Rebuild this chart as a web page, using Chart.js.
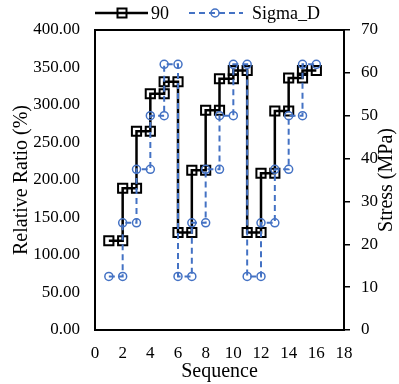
<!DOCTYPE html>
<html>
<head>
<meta charset="utf-8">
<script src="https://cdn.jsdelivr.net/npm/chart.js@4/dist/chart.umd.min.js"></script>
<style>
  html, body { margin: 0; padding: 0; background: #fff; }
  #wrap { width: 399px; height: 384px; }
</style>
</head>
<body>
<div id="wrap"><canvas id="c" width="399" height="384"></canvas></div>
<script>
const sequence = [1,2,2,3,3,4,4,5,5,6,6,7,7,8,8,9,9,10,10,11,11,12,12,13,13,14,14,15,15,16];
const ratio90 = [119,119,189,189,265,265,315,315,331,331,130,130,213,213,293,293,335,335,346,346,130,130,209,209,292,292,336,336,346,346];
const sigmaD = [12.5,12.5,25,25,37.5,37.5,50,50,62,62,12.5,12.5,25,25,37.5,37.5,50,50,62,62,12.5,12.5,25,25,37.5,37.5,50,50,62,62];
const seriesNames = ['90', 'Sigma_D'];
const xTicks = [0,2,4,6,8,10,12,14,16,18];
const leftTicks = [0,50,100,150,200,250,300,350,400];
const rightTicks = [0,10,20,30,40,50,60,70];
const xTitle = 'Sequence';
const leftTitle = 'Relative Ratio (%)';
const rightTitle = 'Stress (MPa)';

const FONT = "'Liberation Serif', 'Times New Roman', serif";
const BLUE = '#4472C4';

const pts = (ys) => sequence.map((x, i) => ({x: x, y: ys[i]}));

const frame = {
  id: 'frame',
  afterDatasetsDraw(chart) {
    const {ctx, chartArea: a} = chart;
    ctx.save();
    ctx.strokeStyle = '#000';
    ctx.lineWidth = 2;
    ctx.beginPath();
    ctx.moveTo(a.left - 1, a.top);
    ctx.lineTo(a.right + 1, a.top);
    ctx.stroke();
    ctx.restore();
  },
  afterDraw(chart) {
    const {ctx, chartArea: a} = chart;
    const ds = chart.data.datasets;
    ctx.save();
    ctx.font = '18px ' + FONT;
    ctx.textBaseline = 'middle';
    ctx.fillStyle = '#000';
    const y = 13;
    // legend item 1
    ctx.strokeStyle = ds[0].borderColor;
    ctx.lineWidth = ds[0].borderWidth;
    ctx.setLineDash([]);
    ctx.beginPath(); ctx.moveTo(95, y); ctx.lineTo(148, y); ctx.stroke();
    ctx.lineWidth = ds[0].pointBorderWidth;
    ctx.strokeRect(117.5, y - 4.5, 9, 9);
    ctx.fillText(seriesNames[0], 151, y + 1);
    // legend item 2
    ctx.strokeStyle = ds[1].borderColor;
    ctx.lineWidth = ds[1].borderWidth;
    ctx.setLineDash(ds[1].borderDash);
    ctx.beginPath(); ctx.moveTo(189, y); ctx.lineTo(243, y); ctx.stroke();
    ctx.setLineDash([]);
    ctx.lineWidth = ds[1].pointBorderWidth;
    ctx.beginPath(); ctx.arc(215, y, 4, 0, Math.PI * 2); ctx.stroke();
    ctx.fillText(seriesNames[1], 252, y + 1);
    // right axis title, reading bottom to top
    ctx.font = '20px ' + FONT;
    ctx.textAlign = 'center';
    ctx.translate(387, (a.top + a.bottom) / 2);
    ctx.rotate(-Math.PI / 2);
    ctx.fillText(rightTitle, 0, 0);
    ctx.restore();
  }
};

new Chart(document.getElementById('c'), {
  type: 'scatter',
  data: {
    datasets: [
      {
        label: seriesNames[0],
        data: pts(ratio90),
        yAxisID: 'y',
        showLine: true,
        borderColor: '#000',
        borderWidth: 2.5,
        pointStyle: 'rect',
        pointRadius: 6.5,
        pointBorderWidth: 2,
        pointBorderColor: '#000',
        pointBackgroundColor: 'rgba(0,0,0,0)',
        backgroundColor: 'rgba(0,0,0,0)',
        order: 1
      },
      {
        label: seriesNames[1],
        data: pts(sigmaD),
        yAxisID: 'y1',
        showLine: true,
        borderColor: BLUE,
        borderWidth: 2,
        borderDash: [6, 4],
        pointStyle: 'circle',
        pointRadius: 4,
        pointBorderWidth: 1.5,
        pointBorderColor: BLUE,
        pointBackgroundColor: 'rgba(0,0,0,0)',
        backgroundColor: 'rgba(0,0,0,0)',
        order: 0
      }
    ]
  },
  options: {
    responsive: false,
    animation: false,
    events: [],
    layout: { padding: { top: 30, left: 0, right: 0, bottom: 0 } },
    plugins: { legend: { display: false }, tooltip: { enabled: false } },
    scales: {
      x: {
        type: 'linear',
        min: 0, max: 18,
        afterBuildTicks: (s) => { s.ticks = xTicks.map(v => ({value: v})); },
        afterFit: (s) => { s.height = 54; },
        grid: { display: false, drawTicks: false },
        border: { display: true, color: '#000', width: 2 },
        ticks: { color: '#000', padding: 13, font: { family: FONT, size: 17 }, maxRotation: 0 },
        title: { display: true, text: xTitle, color: '#000', padding: 0, font: { family: FONT, size: 20 } }
      },
      y: {
        type: 'linear',
        position: 'left',
        min: 0, max: 400,
        afterBuildTicks: (s) => { s.ticks = leftTicks.map(v => ({value: v})); },
        afterFit: (s) => { s.width = 95; },
        grid: { display: false, drawTicks: false },
        border: { display: true, color: '#000', width: 2 },
        ticks: { color: '#000', padding: 15, font: { family: FONT, size: 17 }, callback: (v) => Number(v).toFixed(2) },
        title: { display: true, text: leftTitle, color: '#000', padding: { top: 10 }, font: { family: FONT, size: 20 } }
      },
      y1: {
        type: 'linear',
        position: 'right',
        min: 0, max: 70,
        afterBuildTicks: (s) => { s.ticks = rightTicks.map(v => ({value: v})); },
        afterFit: (s) => { s.width = 55; },
        grid: { display: true, drawOnChartArea: false, drawTicks: true, tickLength: 6, color: '#000', lineWidth: 1.5 },
        border: { display: true, color: '#000', width: 2 },
        ticks: { color: '#000', padding: 11, font: { family: FONT, size: 17 } },
        title: { display: false }
      }
    }
  },
  plugins: [frame]
});
</script>
</body>
</html>
